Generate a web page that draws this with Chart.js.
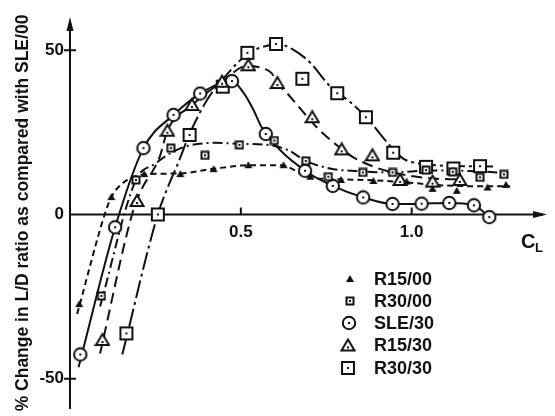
<!DOCTYPE html>
<html>
<head>
<meta charset="utf-8">
<script src="https://cdn.jsdelivr.net/npm/chart.js@4.4.0/dist/chart.umd.min.js"></script>
<style>
  html, body { margin: 0; padding: 0; background: #fff; }
  #wrap { width: 555px; height: 416px; }
</style>
</head>
<body>
<div id="wrap"><canvas id="chart" width="555" height="416"></canvas></div>
<script>
// 축 눈금
var xTicks = [0.5, 1.0];
var yTicks = [-50, 0, 50];
var seriesNames = ['R15/00', 'R30/00', 'SLE/30', 'R15/30', 'R30/30'];

// 측정점 (CL, % change)
var r1500CL  = [0.027, 0.121, 0.217, 0.323, 0.42, 0.522, 0.625, 0.703, 0.793, 0.888, 0.985, 1.061, 1.132, 1.222, 1.276];
var r1500Val = [-27.3, 5.3, 12.3, 12.3, 13.8, 15.0, 15.0, 11.5, 10.5, 10.2, 10.0, 7.8, 7.2, 8.2, 9.0];

var r3000CL  = [0.092, 0.193, 0.295, 0.395, 0.496, 0.598, 0.690, 0.756, 0.857, 0.944, 1.042, 1.12, 1.2, 1.27];
var r3000Val = [-24.8, 10.5, 20.2, 18.0, 21.2, 22.5, 16.3, 11.5, 12.8, 12.8, 13.5, 13.0, 11.3, 12.2];

var sle30CL  = [0.03, 0.132, 0.215, 0.303, 0.381, 0.474, 0.573, 0.688, 0.769, 0.858, 0.944, 1.029, 1.110, 1.182, 1.227];
var sle30Val = [-42.6, -3.9, 20.2, 30.3, 36.8, 40.6, 24.5, 13.3, 8.7, 5.2, 3.2, 3.3, 3.5, 2.8, -0.8];

var r1530CL  = [0.095, 0.196, 0.285, 0.357, 0.445, 0.522, 0.607, 0.709, 0.795, 0.885, 0.966, 1.061, 1.141];
var r1530Val = [-38.2, 4.1, 25.5, 33.3, 40.4, 45.4, 40.0, 29.6, 19.8, 18.0, 10.5, 10.0, 10.5];

var r3030CL  = [0.165, 0.257, 0.350, 0.447, 0.519, 0.603, 0.680, 0.782, 0.866, 0.946, 1.042, 1.122, 1.200];
var r3030Val = [-36.2, 0.0, 24.2, 38.9, 49.2, 51.9, 41.3, 36.9, 29.6, 18.8, 14.5, 14.0, 14.7];

// 그림에서 읽은 곡선 (faired curve)
var r1500CurveCL  = [0.021, 0.103, 0.121, 0.16, 0.217, 0.323, 0.42, 0.527, 0.615, 0.703, 0.79, 0.888, 0.98, 1.083, 1.186, 1.288];
var r1500CurveVal = [-30.3, 0.5, 5.3, 10.0, 12.2, 12.5, 13.9, 15.0, 15.0, 11.3, 10.7, 10.4, 9.8, 8.9, 8.6, 8.6];

var r3000CurveCL  = [0.088, 0.193, 0.25, 0.30, 0.346, 0.425, 0.498, 0.577, 0.64, 0.688, 0.761, 0.857, 0.945, 1.053, 1.2, 1.282];
var r3000CurveVal = [-28.0, 10.5, 15.5, 19.0, 20.9, 21.8, 21.5, 21.2, 19.5, 16.4, 14.0, 13.1, 12.8, 13.4, 13.1, 12.5];

var sle30CurveCL  = [0.025, 0.132, 0.215, 0.303, 0.381, 0.474, 0.506, 0.536, 0.556, 0.573, 0.688, 0.769, 0.858, 0.944, 1.029, 1.110, 1.182, 1.227];
var sle30CurveVal = [-46.5, -3.9, 20.2, 30.3, 36.8, 40.6, 37.3, 32.0, 27.5, 24.5, 13.3, 8.7, 5.2, 3.2, 3.3, 3.5, 2.8, -0.8];

var r1530CurveCL  = [0.088, 0.183, 0.214, 0.243, 0.264, 0.285, 0.357, 0.445, 0.52, 0.56, 0.59, 0.607, 0.638, 0.688, 0.727, 0.782, 0.826, 0.887, 0.945, 1.053, 1.14];
var r1530CurveVal = [-42.3, 0.5, 8.6, 13.4, 18.0, 25.5, 33.3, 40.4, 45.3, 44.6, 43.0, 40.0, 36.6, 30.5, 26.0, 21.0, 17.6, 14.6, 12.8, 11.0, 10.7];

var r3030CurveCL  = [0.153, 0.257, 0.293, 0.314, 0.35, 0.402, 0.454, 0.524, 0.586, 0.603, 0.653, 0.703, 0.761, 0.82, 0.866, 0.937, 0.975, 1.024, 1.082, 1.238];
var r3030CurveVal = [-42.6, 0.0, 10.0, 15.0, 24.5, 35.0, 42.0, 49.2, 51.6, 52.0, 50.2, 46.2, 39.0, 34.2, 29.7, 20.9, 17.0, 15.5, 14.9, 14.6];

var ink = '#111';

function pts(xs, ys){
  var out = [];
  for(var i=0; i<xs.length; i++){
    out.push({x: xs[i], y: ys[i]});
  }
  return out;
}

// 마커 이미지 만들기
function makeMarker(kind){
  var c = document.createElement('canvas');
  var s = (kind == 'tri' || kind == 'sq') ? 10 : 16;
  c.width = s; c.height = s;
  var g = c.getContext('2d');
  var m = s / 2;
  g.strokeStyle = ink;
  g.fillStyle = '#fff';
  g.lineWidth = 2;
  if(kind == 'tri'){ // 검은 삼각형
    g.fillStyle = ink;
    g.beginPath();
    g.moveTo(m, 1); g.lineTo(s-1, s-2); g.lineTo(1, s-2);
    g.closePath(); g.fill();
  } else if(kind == 'sq'){ // 작은 사각형
    g.fillRect(1, 1, 8, 8);
    g.strokeRect(1.5, 1.5, 7, 7);
    g.fillStyle = ink;
    g.fillRect(m-1, m-1, 2, 2);
  } else if(kind == 'circle'){
    g.beginPath(); g.arc(m, m, 6.2, 0, Math.PI*2);
    g.fill(); g.stroke();
    g.fillStyle = ink;
    g.fillRect(m-1, m-1, 2, 2);
  } else if(kind == 'otri'){
    g.beginPath();
    g.moveTo(m, 2); g.lineTo(s-1.5, s-3); g.lineTo(1.5, s-3);
    g.closePath(); g.fill(); g.stroke();
    g.fillStyle = ink;
    g.fillRect(m-1, m+1, 2, 2);
  } else { // 큰 사각형
    g.fillRect(2, 2, s-4, s-4);
    g.strokeRect(2, 2, s-4, s-4);
    g.fillStyle = ink;
    g.fillRect(m-1, m-1, 2, 2);
  }
  return c;
}

var markers = [makeMarker('tri'), makeMarker('sq'), makeMarker('circle'), makeMarker('otri'), makeMarker('osq')];
var dashes = [[6, 4], [10, 4, 2, 4], [], [11, 6], [18, 4, 3, 4]];
var pointSets = [pts(r1500CL, r1500Val), pts(r3000CL, r3000Val), pts(sle30CL, sle30Val), pts(r1530CL, r1530Val), pts(r3030CL, r3030Val)];
var curveSets = [pts(r1500CurveCL, r1500CurveVal), pts(r3000CurveCL, r3000CurveVal), pts(sle30CurveCL, sle30CurveVal), pts(r1530CurveCL, r1530CurveVal), pts(r3030CurveCL, r3030CurveVal)];

var datasets = [];
for(var i=0; i<seriesNames.length; i++){
  datasets.push({
    label: seriesNames[i],
    data: pointSets[i],
    showLine: false,
    pointStyle: markers[i],
    order: 0
  });
  datasets.push({
    label: seriesNames[i] + ' curve',
    data: curveSets[i],
    showLine: true,
    borderColor: ink,
    borderWidth: 2,
    borderDash: dashes[i],
    pointRadius: 0,
    cubicInterpolationMode: 'monotone',
    order: 1
  });
}

// 축, 화살표, 범례
var decor = {
  id: 'decor',
  beforeDatasetsDraw: function(chart){
    var ctx = chart.ctx;
    var xs = chart.scales.x, ys = chart.scales.y;
    var x0 = xs.getPixelForValue(0), y0 = ys.getPixelForValue(0);
    var top = chart.chartArea.top, bottom = chart.chartArea.bottom, right = chart.chartArea.right;
    ctx.save();
    ctx.strokeStyle = ink; ctx.fillStyle = ink; ctx.lineWidth = 2;
    ctx.beginPath();
    ctx.moveTo(x0, bottom); ctx.lineTo(x0, top + 4);
    ctx.moveTo(x0, y0); ctx.lineTo(right - 4, y0);
    // 눈금
    yTicks.forEach(function(v){
      if(v == 0) return;
      var p = ys.getPixelForValue(v);
      ctx.moveTo(x0 - 6, p); ctx.lineTo(x0 + 6, p);
    });
    xTicks.forEach(function(v){
      var p = xs.getPixelForValue(v);
      ctx.moveTo(p, y0 - 7); ctx.lineTo(p, y0 + 1);
    });
    ctx.stroke();
    // 화살표
    ctx.beginPath();
    ctx.moveTo(x0, top); ctx.lineTo(x0 - 3.5, top + 14); ctx.lineTo(x0 + 3.5, top + 14); ctx.closePath();
    ctx.moveTo(right, y0); ctx.lineTo(right - 14, y0 - 3.5); ctx.lineTo(right - 14, y0 + 3.5); ctx.closePath();
    ctx.fill();
    // C_L
    ctx.textBaseline = 'alphabetic';
    ctx.font = 'bold 20px "Liberation Sans", Arial, sans-serif';
    ctx.fillText('C', 521, 248);
    ctx.font = 'bold 13px "Liberation Sans", Arial, sans-serif';
    ctx.fillText('L', 535, 252);
    // 범례
    ctx.font = 'bold 18px "Liberation Sans", Arial, sans-serif';
    ctx.textBaseline = 'middle';
    var rows = [279, 301, 323, 345.5, 368];
    var mx = [350, 350, 349, 348, 348];
    for(var i=0; i<seriesNames.length; i++){
      var img = markers[i];
      ctx.drawImage(img, mx[i] - img.width/2, rows[i] - img.height/2);
      ctx.fillText(seriesNames[i], 374, rows[i] + 1);
    }
    ctx.restore();
  }
};

new Chart(document.getElementById('chart'), {
  type: 'scatter',
  data: { datasets: datasets },
  options: {
    responsive: false,
    animation: false,
    devicePixelRatio: 1,
    layout: { padding: { top: 17, bottom: 3, right: 8, left: 0 } },
    plugins: {
      legend: { display: false },
      tooltip: { enabled: false }
    },
    elements: { point: { radius: 6 } },
    scales: {
      x: {
        type: 'linear',
        min: 0, max: 1.396,
        position: { y: 0 },
        grid: { display: false, drawTicks: false },
        border: { display: false },
        afterBuildTicks: function(s){ s.ticks = xTicks.map(function(v){ return {value: v}; }); },
        ticks: {
          color: ink, padding: 8,
          font: { family: '"Liberation Sans", Arial, sans-serif', size: 17, weight: 'bold' },
          callback: function(v){ return v.toFixed(1); }
        }
      },
      y: {
        type: 'linear',
        min: -59.2, max: 60.1,
        grid: { display: false, drawTicks: false },
        border: { display: false },
        afterBuildTicks: function(s){ s.ticks = yTicks.map(function(v){ return {value: v}; }); },
        afterFit: function(s){ s.width = 70; s.paddingTop = 0; s.paddingBottom = 0; },
        ticks: {
          color: ink, padding: 6,
          font: { family: '"Liberation Sans", Arial, sans-serif', size: 17, weight: 'bold' }
        },
        title: {
          display: true,
          text: '% Change in L/D ratio as compared with SLE/00',
          color: ink,
          padding: { top: 13, bottom: 0 },
          font: { family: '"Liberation Sans", Arial, sans-serif', size: 17.5, weight: 'bold' }
        }
      }
    }
  },
  plugins: [decor]
});
</script>
</body>
</html>
